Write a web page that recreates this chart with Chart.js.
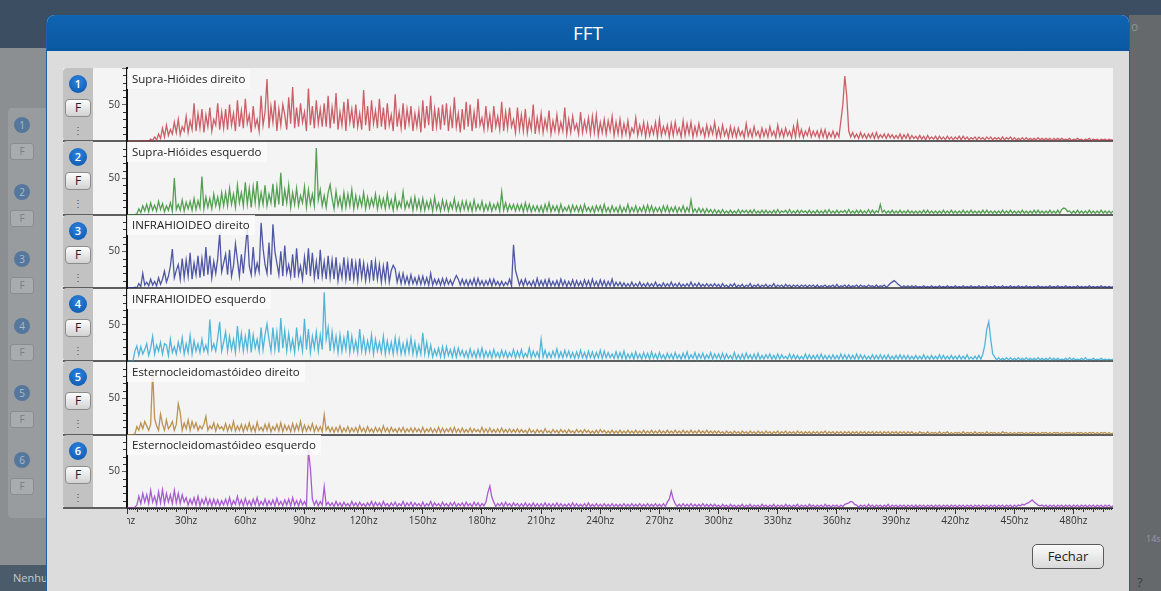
<!DOCTYPE html>
<html>
<head>
<meta charset="utf-8">
<script src="https://cdn.jsdelivr.net/npm/chart.js@4/dist/chart.umd.min.js"></script>
<style>
html,body{margin:0;padding:0;width:1161px;height:591px;overflow:hidden;background:#8c8f92;font-family:"Open Sans","Noto Sans",sans-serif;}
.abs{position:absolute;}
#appTop{left:0;top:0;width:1161px;height:48px;background:#3b4e62;}
#appLeftPanel{left:8px;top:108px;width:40px;height:410px;background:#999c9f;border-radius:4px;}
.ghostBadge{width:16px;height:16px;border-radius:50%;background:#55779b;color:#a9bccf;font-size:10px;line-height:16px;text-align:center;}
.ghostF{width:22px;height:15px;border-radius:3px;background:#a9acaf;border:1px solid #8a8d90;color:#7b7e81;font-size:10px;line-height:15px;text-align:center;}
#appBottom{left:0;top:565px;width:47px;height:26px;background:#4c5b6a;color:#c3ccd5;font-size:11px;line-height:26px;padding-left:13px;box-sizing:border-box;overflow:hidden;white-space:nowrap;}
#appRight{left:1129px;top:15px;width:32px;height:576px;background:#66696c;}
#modal{left:47px;top:15px;width:1082px;height:600px;background:#dcdcdc;border-radius:8px 8px 0 0;overflow:hidden;box-shadow:1px 0 0 #1d5fa8,-1px 0 0 #1d5fa8;}
#modalHead{position:absolute;left:0;top:0;width:1082px;height:36px;background:linear-gradient(#1064b1,#0a58a2);color:#fff;font-size:19px;line-height:36px;text-align:center;}
#panel{left:63px;top:68px;width:1050px;height:440px;background:#f4f4f4;}
.strip{width:30px;background:#c2c2c2;border-radius:4px 0 0 4px;}
.sep{height:2px;background:#5e5e5e;}
.badge{width:18px;height:18px;border-radius:50%;background:radial-gradient(circle at 50% 35%,#2d84e0,#0a52a6);color:#fff;font-size:11px;line-height:18px;text-align:center;font-weight:600;}
.fbtn{width:24px;height:16px;border-radius:4px;border:1px solid #8c8c8c;background:linear-gradient(#fdfdfd,#d2d2d2);color:#222;font-size:12px;line-height:16px;text-align:center;}
.dots{width:10px;height:12px;color:#555;font-size:10px;line-height:12px;text-align:center;}
.title{height:20px;line-height:19px;padding:0 5px;font-size:11.5px;color:#222;background:rgba(250,250,250,0.85);white-space:nowrap;z-index:5;}
#wrap{position:absolute;left:0;top:0;z-index:3;}
#fechar{left:1032px;top:544px;width:70px;height:23px;border:1px solid #5a5a5a;border-radius:5px;background:linear-gradient(#fbfbfb,#d9d9d9);color:#222;font-size:13px;line-height:23px;text-align:center;}
</style>
</head>
<body>
<div id="appTop" class="abs"></div>
<div id="appLeftPanel" class="abs"></div>
<div id="appBottom" class="abs">Nenhum</div>
<div id="appRight" class="abs"></div>
<div class="abs" style="left:1131px;top:18px;color:#8d9196;font-size:12px;">o</div>
<div class="abs" style="left:1146px;top:532px;color:#9a9da0;font-size:9px;">14s</div>
<div class="abs" style="left:1137px;top:573px;color:#3a3d40;font-size:13px;">?</div>
<div id="modal" class="abs"><div id="modalHead">FFT</div></div>
<div id="panel" class="abs"></div>
<div id="rows"></div>
<div id="wrap"><canvas id="fft"></canvas></div>
<div id="fechar" class="abs">Fechar</div>
<script>
// ---------- DATA (amplitude per 1 hz bin, 0..500 hz) ----------
const FREQ_STEP = 1;
const X_MAX = 500;
const X_LABEL_STEP = 30;
const Y_MAX = 100;
const Y_LABEL = 50;

const TITLES = [
  "Supra-Hióides direito",
  "Supra-Hióides esquerdo",
  "INFRAHIOIDEO direito",
  "INFRAHIOIDEO esquerdo",
  "Esternocleidomastóideo direito",
  "Esternocleidomastóideo esquerdo"
];
const COLORS = [
  "rgba(188,36,48,0.72)",
  "rgba(30,132,30,0.75)",
  "rgba(32,42,142,0.78)",
  "rgba(38,166,210,0.8)",
  "rgba(176,124,48,0.82)",
  "rgba(150,48,200,0.78)"
];

const SUPRA_DIR = [
  0,0,0,0,0,0,0,0,1,0, 1,0,3,1,6,2,10,4,18,6, 22,8,16,10,26,12,30,9,20,14, 34,12,28,16,52,14,38,18,44,12, 36,20,46,14,30,22,52,16,40,18,
  44,16,50,22,38,14,56,20,42,18, 58,24,36,12,48,20,30,14,62,22, 40,85,18,48,26,56,14,44,22,50, 36,16,60,24,74,18,46,20,52,26, 40,14,72,22,48,18,56,24,44,20,
  52,20,62,18,46,24,66,16,40,22, 54,14,58,26,44,18,50,20,38,16, 70,22,48,14,56,24,42,18,58,20, 46,16,52,22,36,14,64,20,40,18, 52,16,44,24,48,14,38,20,42,12,
  56,18,48,22,62,14,44,20,46,16, 50,22,52,14,42,18,60,20,38,12, 44,16,54,20,50,14,40,18,58,22, 32,16,48,18,36,12,48,20,34,16, 54,14,40,18,46,20,30,12,46,16,
  36,14,44,12,30,16,50,10,32,14, 38,12,30,16,42,10,28,14,36,12, 26,14,46,10,30,12,34,16,24,10, 40,12,28,14,32,10,34,12,36,8, 26,12,30,10,28,14,34,8,26,10,
  30,8,24,10,28,6,18,12,32,8, 22,10,26,6,24,8,20,10,26,6, 30,8,20,10,22,6,24,8,26,10, 18,6,28,8,24,10,26,6,20,8, 24,10,18,6,22,8,20,10,26,6,
  18,6,22,8,16,5,20,7,18,6, 18,8,14,5,24,7,16,6,20,8, 14,5,18,7,16,6,20,8,14,5, 22,7,16,6,18,8,14,5,20,6, 26,7,16,5,14,8,18,6,14,7,
  14,5,16,6,16,4,12,6,14,5, 12,6,28,50,89,61,14,6,12,5, 10,4,12,5,10,4,10,5,11,4, 12,4,9,5,10,4,10,5,9,4, 8,4,10,3,9,4,10,3,8,4,
  7,3,8,3,7,2,8,3,6,3, 7,2,7,3,6,2,7,3,6,2, 6,3,7,2,7,3,6,2,5,3, 6,2,6,3,5,2,6,3,6,2, 5,3,5,2,6,2,5,3,6,2,
  5,2,4,2,5,2,5,2,4,2, 4,2,5,2,4,2,4,2,4,1, 4,2,4,2,4,2,3,2,4,1, 3,2,4,2,3,1,3,2,4,1, 3,2,3,1,3,2,3,1,3,2, 2
];
const SUPRA_ESQ = [
  0,0,0,0,0,1,8,3,12,5, 14,4,16,6,13,5,18,7,15,4, 12,6,16,5,50,7,14,6,20,5, 17,8,18,6,22,7,19,9,52,8, 24,10,22,8,28,12,24,9,30,12,
  30,12,36,14,28,10,40,16,30,12, 44,14,36,10,38,16,46,12,30,14, 40,12,28,16,42,10,38,14,57,12, 34,16,40,10,30,14,36,12,26,16, 38,10,34,14,28,12,91,20,34,12,
  26,10,30,41,22,8,32,12,24,8, 30,10,28,12,34,8,26,10,24,12, 30,8,24,10,22,12,28,8,24,10, 22,8,28,10,20,6,26,8,18,10, 31,8,18,10,22,6,24,8,20,6,
  22,6,18,8,20,5,24,7,16,5, 20,7,18,5,16,8,22,6,16,5, 18,7,18,6,16,5,20,6,14,7, 18,5,14,6,16,5,14,7,16,5, 31,6,16,5,14,7,14,5,14,6,
  14,4,16,5,14,4,12,5,12,4, 12,3,14,5,16,4,12,5,12,3, 14,4,10,5,12,3,13,5,12,4, 12,3,14,5,10,4,11,3,12,5, 12,3,14,4,10,3,12,4,10,3,
  12,3,10,4,14,3,10,4,12,3, 10,4,12,3,13,4,12,3,10,4, 10,3,12,4,12,3,10,4,11,3, 10,4,12,3,10,4,20,3,8,3, 9,3,8,2,8,3,7,2,7,2,
  6,2,7,2,5,2,6,2,5,2, 7,2,6,3,6,2,6,2,7,2, 5,2,6,2,6,2,5,2,6,2, 7,2,5,3,6,2,7,2,5,2, 6,2,6,3,5,2,6,2,5,2,
  6,2,5,2,6,2,7,2,5,2, 6,2,5,3,6,2,7,2,5,2, 6,2,6,2,5,2,7,2,6,2, 5,3,14,3,6,2,5,2,6,2, 5,2,6,2,5,2,6,2,5,2,
  5,2,5,2,6,2,6,2,5,2, 5,2,5,2,6,2,5,2,6,2, 5,2,5,2,6,2,5,2,6,2, 5,2,5,2,6,2,6,2,5,2, 5,2,5,2,6,2,5,2,6,2,
  5,2,5,2,6,2,5,2,5,2, 6,2,6,2,5,2,5,2,6,2, 5,2,6,2,7,9,8,4,5,2, 5,2,6,2,5,2,5,2,6,2, 5,2,5,2,6,2,5,2,5,2, 5
];
const INFRA_DIR = [
  0,0,0,0,1,0,6,2,20,4, 8,3,12,4,9,3,14,5,12,23, 8,16,30,53,14,24,32,12,40,14, 38,16,48,12,34,18,44,14,40,16, 56,18,44,14,36,20,40,75,22,34,
  46,18,52,16,30,60,38,16,46,20, 52,82,30,18,56,20,34,22,89,54, 32,20,62,18,87,50,34,18,50,16, 58,20,32,16,46,14,54,18,30,12, 42,18,54,16,48,14,36,12,52,16,
  36,12,44,14,38,12,42,10,30,14, 42,12,36,10,40,12,34,10,40,14, 34,10,30,12,38,10,36,12,32,8, 30,10,36,8,24,31,26,8,20,6, 20,6,16,5,18,6,14,5,16,5,
  16,5,14,4,20,4,12,5,12,4, 13,4,13,5,11,4,11,17,12,4, 12,4,11,3,11,4,13,3,13,4, 10,3,10,4,12,3,12,4,9,3, 9,3,8,4,12,3,59,24,14,4,
  11,3,12,4,9,3,10,2,13,3, 10,3,11,2,12,3,9,3,10,2, 12,3,10,2,9,3,11,2,10,3, 9,2,11,3,10,2,12,3,9,2, 11,3,10,2,9,3,12,2,8,3,
  8,2,7,2,6,2,8,2,6,2, 8,2,6,2,7,2,6,2,8,2, 5,2,7,2,6,2,8,2,6,2, 7,2,5,2,6,2,8,2,6,2, 7,2,5,2,6,2,5,2,6,2,
  5,1,6,2,4,1,5,2,6,1, 4,2,5,1,4,2,6,1,4,2, 5,1,4,2,5,1,4,2,6,1, 4,2,4,1,5,2,4,1,4,2, 4,1,4,2,4,1,4,2,4,1,
  4,1,3,2,4,1,3,2,4,1, 5,1,3,2,4,1,4,1,3,2, 4,1,4,2,3,1,4,2,3,1, 4,1,3,2,4,1,3,6,8,10, 8,5,3,1,3,1,3,1,3,1,
  3,1,2,1,3,1,2,1,3,1, 2,1,3,1,2,1,3,1,2,1, 3,1,2,1,3,1,2,1,3,1, 2,1,3,1,2,1,3,1,2,1, 3,1,2,1,3,1,2,1,3,1,
  2,1,3,1,2,1,3,1,2,1, 2,1,3,1,2,1,2,1,3,1, 2,1,3,1,2,1,3,1,2,1, 2,1,3,1,2,1,2,1,3,1, 2,1,2,1,3,1,2,1,2,1, 2
];
const INFRA_ESQ = [
  0,0,0,0,14,21,8,20,10,16, 24,8,18,34,10,22,14,26,10,24, 22,8,30,12,20,10,26,14,32,10, 24,12,35,10,28,14,24,12,30,14, 22,12,57,16,24,14,32,54,14,26,
  40,14,34,16,30,12,48,18,38,14, 34,16,44,12,36,18,30,14,46,16, 36,51,30,14,46,16,40,12,59,18, 42,14,38,16,30,12,46,18,32,14, 58,16,44,12,34,18,40,14,36,16,
  94,30,46,14,40,16,34,12,36,14, 32,16,42,12,34,14,28,12,44,14, 32,12,28,14,36,10,30,14,26,12, 34,10,28,12,26,10,32,12,30,10, 24,10,28,12,32,10,26,8,22,10,
  39,10,26,8,22,6,16,8,18,6, 20,6,20,8,16,6,18,6,18,8, 15,6,14,5,17,6,14,5,16,6, 18,5,14,6,14,5,16,6,12,5, 15,6,14,5,12,6,16,5,14,6,
  16,5,11,6,18,5,14,6,13,5, 30,6,15,5,12,5,14,6,17,5, 13,5,15,6,14,5,12,4,13,5, 15,5,12,4,14,5,13,4,12,5, 15,4,14,5,12,5,10,4,13,4,
  12,4,14,3,10,4,11,3,13,4, 10,3,12,4,11,3,13,4,10,3, 12,4,9,3,11,4,10,3,12,4, 9,3,11,4,13,3,9,4,12,3, 10,4,11,3,9,4,12,3,10,4,
  10,3,11,3,10,4,8,3,12,3, 9,3,10,3,11,4,9,3,10,3, 11,3,8,3,9,4,10,3,8,3, 10,3,9,4,7,3,10,3,9,3, 8,3,7,3,10,3,9,3,8,3,
  9,3,10,3,8,3,8,3,9,3, 8,3,10,3,9,3,9,3,8,3, 10,3,9,3,8,3,7,3,9,3, 8,3,9,3,8,3,9,3,7,3, 8,3,9,3,8,3,8,3,7,3,
  8,3,7,3,9,3,7,3,8,3, 7,3,9,3,8,3,7,3,8,3, 7,3,8,3,7,3,9,3,6,3, 7,3,8,3,10,22,44,54,30,10, 6,2,5,2,4,2,5,2,5,2,
  4,2,5,2,4,2,5,2,4,2, 4,2,5,2,4,2,4,2,5,2, 4,2,4,2,3,2,4,2,5,2, 4,2,3,2,4,2,5,2,3,2, 4,2,3,2,4,2,3,2,3,2, 3
];
const ECM_DIR = [
  0,0,0,0,1,11,6,16,8,18, 12,6,14,86,22,12,6,28,14,6, 20,8,12,18,6,14,42,30,6,16, 8,20,6,18,9,16,6,12,8,14, 25,6,12,8,16,5,14,8,11,6,
  15,5,13,6,18,5,12,6,14,4, 13,6,16,5,12,4,17,6,10,5, 14,6,15,4,11,6,14,5,16,4, 13,6,12,4,15,5,14,6,18,4, 13,5,12,6,15,4,12,5,11,4,
  27,6,11,4,10,3,10,4,12,3, 9,4,11,3,9,4,10,3,12,4, 9,3,11,4,8,3,10,4,9,3, 12,4,9,3,10,4,8,3,9,4, 10,3,8,4,9,3,9,4,8,3,
  10,3,8,4,9,3,8,3,10,3, 9,3,8,4,9,3,10,3,8,3, 9,3,7,3,9,3,8,4,7,3, 10,3,8,3,9,3,7,3,8,3, 9,3,7,3,8,3,7,3,8,3,
  7,3,6,2,8,3,6,2,7,3, 6,2,8,3,5,2,7,3,6,2, 7,3,6,2,7,3,5,2,7,3, 6,2,7,3,6,2,5,2,6,2, 7,3,6,2,5,2,6,2,5,2,
  6,2,5,2,6,2,5,2,6,2, 5,2,6,2,5,2,6,2,5,2, 6,2,5,2,6,2,5,2,6,2, 5,2,6,2,5,2,6,2,5,2, 6,2,5,2,6,2,5,2,5,2,
  5,2,4,1,5,2,4,1,5,2, 4,1,5,2,4,1,5,2,4,1, 5,2,4,1,5,2,4,1,4,2, 5,1,4,2,5,1,4,2,4,1, 5,2,4,1,4,2,4,1,4,2,
  4,1,4,2,5,1,4,2,4,1, 4,2,4,1,4,2,4,1,4,2, 4,1,4,2,4,1,4,2,4,1, 4,2,4,1,4,2,4,1,4,2, 4,1,4,2,4,1,4,2,4,1,
  3,1,4,2,3,1,4,1,3,2, 3,1,4,1,3,2,4,1,3,1, 3,2,3,1,4,1,3,2,3,1, 4,1,3,2,3,1,4,1,3,2, 3,1,3,1,4,2,3,1,3,1,
  3,1,3,2,3,1,3,1,3,2, 3,1,3,1,3,2,3,1,3,1, 3,2,3,1,3,1,3,2,3,1, 3,1,3,2,3,1,3,1,3,2, 3,1,3,1,3,2,3,1,3,1, 2
];
const ECM_ESQ = [
  0,0,0,0,1,4,16,6,20,8, 18,6,24,8,16,5,22,7,25,6, 20,8,18,6,24,7,20,6,18,8, 14,4,12,5,14,4,16,3,12,5, 14,4,12,3,12,4,11,3,10,4,
  12,4,14,3,10,5,16,4,11,3, 13,4,10,3,12,4,14,3,9,4, 12,3,10,4,11,3,13,4,9,3, 11,4,12,3,14,4,10,3,11,4, 9,3,78,54,12,4,10,3,9,4,
  29,4,8,3,7,2,9,3,7,2, 8,3,6,2,9,3,7,2,8,3, 6,2,7,3,9,2,8,3,7,2, 9,3,6,2,7,3,8,2,6,3, 9,2,7,3,8,2,7,3,6,2,
  8,2,6,3,9,2,7,3,6,2, 8,3,6,2,7,3,8,2,6,3, 7,2,8,3,6,2,8,3,7,2, 6,3,8,21,30,15,8,2,6,3, 7,2,8,3,6,2,7,3,6,2,
  6,2,7,2,6,2,7,2,6,2, 6,2,7,2,6,2,6,2,7,2, 6,2,5,2,6,2,7,2,6,2, 5,2,6,2,7,2,5,2,6,2, 5,2,6,2,5,2,6,2,5,2,
  5,2,6,2,5,2,6,2,5,2, 6,2,5,2,6,2,5,2,6,2, 5,2,6,2,8,12,23,12,6,2, 5,2,6,2,5,2,6,2,5,2, 5,2,6,2,5,2,5,2,5,2,
  4,1,5,2,4,1,5,2,4,1, 4,2,5,1,4,2,5,1,4,2, 4,1,5,2,4,1,4,2,5,1, 4,2,4,1,5,2,4,1,4,2, 5,1,4,2,4,1,5,2,4,1,
  4,2,4,1,5,2,4,1,4,2, 4,1,4,2,5,6,7,9,8,5, 4,1,4,2,4,1,5,2,4,1, 4,2,4,1,4,2,5,1,4,2, 4,1,4,2,4,1,4,2,4,1,
  4,1,4,2,4,1,4,2,4,1, 4,2,4,1,4,2,4,1,4,2, 4,1,4,2,4,1,4,2,4,1, 4,2,4,1,4,2,4,1,4,2, 4,1,4,2,4,1,4,2,4,1,
  4,2,4,3,5,4,6,7,9,11, 8,6,4,3,4,2,4,1,4,2, 4,1,4,2,4,1,4,2,4,1, 4,2,4,1,4,2,4,1,4,2, 4,1,4,2,4,1,4,2,4,1, 3
];
const SERIES = [SUPRA_DIR, SUPRA_ESQ, INFRA_DIR, INFRA_ESQ, ECM_DIR, ECM_ESQ];
const FREQS = SUPRA_DIR.map((_, i) => i * FREQ_STEP);
SERIES.forEach((s, k) => { if (s.length !== 501) throw new Error('series ' + k + ' has ' + s.length + ' values'); });

// ---------- LAYOUT ----------
const AREA = {l:127, t:68, r:1113, b:508};
const ROW_H = (AREA.b - AREA.t) / SERIES.length;

const rows = document.getElementById('rows');
TITLES.forEach((t, k) => {
  const top = AREA.t + k * ROW_H;
  const add = (cls, css, txt) => {
    const d = document.createElement('div');
    d.className = 'abs ' + cls;
    Object.assign(d.style, css);
    if (txt !== undefined) d.textContent = txt;
    rows.appendChild(d);
  };
  add('strip', {left:'63px', top: top + 'px', height: ROW_H + 'px'});
  add('sep', {left:'63px', width:'1050px', top: (top + ROW_H - 1) + 'px'});
  add('badge', {left:'69px', top: (top + 7) + 'px'}, String(k + 1));
  add('fbtn', {left:'65px', top: (top + 31) + 'px'}, 'F');
  add('dots', {left:'73px', top: (top + 56) + 'px'}, '⋮');
  add('title', {left:'127px', top: (top + 0.5) + 'px'}, t);
});
[125,192,259,326,393,460].forEach((y, k) => {
  const b = document.createElement('div');
  b.className = 'abs ghostBadge'; b.style.left = '14px'; b.style.top = (y - 8) + 'px'; b.textContent = k + 1;
  document.body.insertBefore(b, document.getElementById('modal'));
  const f = document.createElement('div');
  f.className = 'abs ghostF'; f.style.left = '10px'; f.style.top = (y + 18) + 'px'; f.textContent = 'F';
  document.body.insertBefore(f, document.getElementById('modal'));
});

// ---------- CHART ----------
Chart.defaults.font.family = '"Open Sans","Noto Sans",sans-serif';

const minorTicks = {
  id: 'minorTicks',
  afterDraw(chart) {
    const ctx = chart.ctx, a = chart.chartArea, xs = chart.scales.x;
    ctx.save();
    ctx.strokeStyle = '#333';
    ctx.lineWidth = 1;
    ctx.beginPath();
    for (let v = 1; v < X_MAX; v++) {
      if (v % X_LABEL_STEP === 0) continue;
      const px = Math.round(xs.getPixelForValue(v)) + 0.5;
      const len = v % 5 === 0 ? 4 : 2;
      ctx.moveTo(px, a.bottom); ctx.lineTo(px, a.bottom + len);
    }
    SERIES.forEach((_, k) => {
      const ys = chart.scales['y' + k];
      for (let v = 10; v < Y_MAX; v += 10) {
        if (v === Y_LABEL) continue;
        const py = Math.round(ys.getPixelForValue(v)) + 0.5;
        ctx.moveTo(a.left - 4, py); ctx.lineTo(a.left - 1, py);
      }
    });
    ctx.stroke();
    ctx.globalCompositeOperation = 'destination-out';
    ctx.fillRect(0, a.bottom + 1, a.left, chart.height - a.bottom);
    ctx.restore();
  }
};

function makeConfig() {
  const scales = {
    x: {
      type: 'linear', min: 0, max: X_MAX,
      ticks: {stepSize: X_LABEL_STEP, includeBounds: false, autoSkip: false, maxRotation: 0,
              color: '#333', font: {size: 10}, padding: 1, callback: v => v + 'hz'},
      grid: {drawOnChartArea: false, drawTicks: true, tickLength: 6, tickColor: '#333'},
      border: {display: true, color: '#222', width: 1},
      afterFit: s => { s.height = 26; }
    }
  };
  for (let k = SERIES.length - 1; k >= 0; k--) {
    scales['y' + k] = {
      type: 'linear', position: 'left', stack: 'fft', stackWeight: 1, offset: false,
      min: 0, max: Y_MAX,
      ticks: {stepSize: Y_LABEL, color: '#333', font: {size: 10}, padding: 2,
              callback: v => v === Y_LABEL ? String(Y_LABEL) : ''},
      grid: {drawOnChartArea: false, tickLength: 5, tickColor: '#666'},
      border: {display: true, color: '#111', width: 2},
      afterFit: s => { s.width = 34; }
    };
  }
  return {
    type: 'line',
    data: {
      labels: FREQS,
      datasets: SERIES.map((vals, k) => ({
        label: TITLES[k], data: vals, yAxisID: 'y' + k, xAxisID: 'x',
        borderColor: COLORS[k], borderWidth: 1.3, pointRadius: 0, tension: 0, fill: false
      }))
    },
    options: {
      responsive: false, maintainAspectRatio: false, animation: false,
      layout: {padding: 0},
      plugins: {legend: {display: false}, tooltip: {enabled: false}},
      scales
    },
    plugins: [minorTicks]
  };
}

const cv = document.getElementById('fft');
const wrap = document.getElementById('wrap');
function build(w, h) {
  cv.width = w; cv.height = h; cv.style.width = w + 'px'; cv.style.height = h + 'px';
  return new Chart(cv, makeConfig());
}
let chart = build(1060, 480);
let a = chart.chartArea;
const W = Math.round(chart.width + (AREA.r - AREA.l) - (a.right - a.left));
const H = Math.round(chart.height + (AREA.b - AREA.t) - (a.bottom - a.top));
chart.destroy();
chart = build(W, H);
a = chart.chartArea;
wrap.style.left = Math.round(AREA.l - a.left) + 'px';
wrap.style.top = Math.round(AREA.t - a.top) + 'px';
</script>
</body>
</html>
